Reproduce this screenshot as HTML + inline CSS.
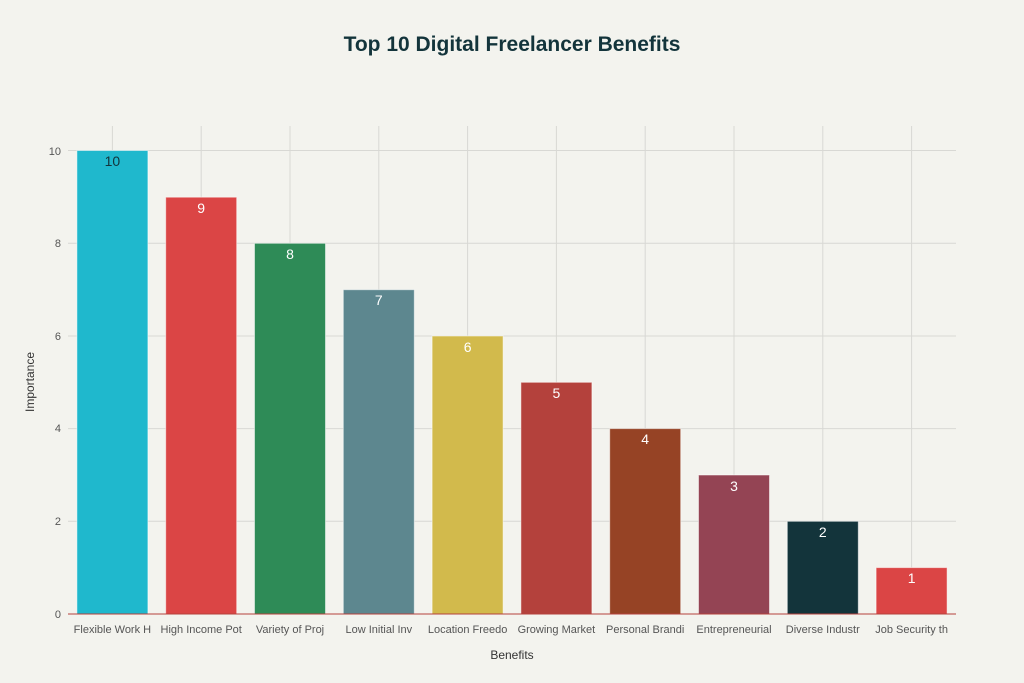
<!DOCTYPE html>
<html><head><meta charset="utf-8"><style>
html,body{margin:0;padding:0;background:#F3F3EE;}
svg{display:block;font-family:"Liberation Sans",sans-serif;}
</style></head><body>
<svg width="1024" height="683" xmlns="http://www.w3.org/2000/svg">
<rect width="1024" height="683" fill="#F3F3EE"/>
<text x="512" y="51" text-anchor="middle" font-size="21" font-weight="bold" fill="#13343B">Top 10 Digital Freelancer Benefits</text>
<g stroke="#D8D8D4" stroke-width="1">
<line x1="68" x2="956" y1="150.5" y2="150.5"/>
<line x1="68" x2="956" y1="243.3" y2="243.3"/>
<line x1="68" x2="956" y1="336" y2="336"/>
<line x1="68" x2="956" y1="428.6" y2="428.6"/>
<line x1="68" x2="956" y1="521.3" y2="521.3"/>
<line x1="112.4" x2="112.4" y1="126" y2="614"/>
<line x1="201.2" x2="201.2" y1="126" y2="614"/>
<line x1="290" x2="290" y1="126" y2="614"/>
<line x1="378.8" x2="378.8" y1="126" y2="614"/>
<line x1="467.6" x2="467.6" y1="126" y2="614"/>
<line x1="556.4" x2="556.4" y1="126" y2="614"/>
<line x1="645.2" x2="645.2" y1="126" y2="614"/>
<line x1="734" x2="734" y1="126" y2="614"/>
<line x1="822.8" x2="822.8" y1="126" y2="614"/>
<line x1="911.6" x2="911.6" y1="126" y2="614"/>
</g>
<g stroke="#ffffff" stroke-opacity="0.5" stroke-width="1">
<rect x="76.9" y="150.5" width="71" height="463.5" fill="#1FB8CD"/>
<rect x="165.7" y="197.2" width="71" height="416.8" fill="#DB4545"/>
<rect x="254.5" y="243.3" width="71" height="370.7" fill="#2E8B57"/>
<rect x="343.3" y="289.7" width="71" height="324.3" fill="#5D878F"/>
<rect x="432.1" y="336" width="71" height="278" fill="#D2BA4C"/>
<rect x="520.9" y="382.3" width="71" height="231.7" fill="#B4413C"/>
<rect x="609.7" y="428.6" width="71" height="185.4" fill="#964325"/>
<rect x="698.5" y="475" width="71" height="139" fill="#944454"/>
<rect x="787.3" y="521.3" width="71" height="92.7" fill="#13343B"/>
<rect x="876.1" y="567.6" width="71" height="46.4" fill="#DB4545"/>
</g>
<line x1="68" x2="956" y1="614" y2="614" stroke="#B4413C" stroke-width="1"/>
<g font-size="14" text-anchor="middle" fill="#fff">
<text x="112.4" y="166" fill="#13343B">10</text>
<text x="201.2" y="213">9</text>
<text x="290" y="259">8</text>
<text x="378.8" y="305">7</text>
<text x="467.6" y="352">6</text>
<text x="556.4" y="398">5</text>
<text x="645.2" y="444">4</text>
<text x="734" y="491">3</text>
<text x="822.8" y="537">2</text>
<text x="911.6" y="583">1</text>
</g>
<g font-size="11" text-anchor="end" fill="#555">
<text x="61" y="618">0</text>
<text x="61" y="525">2</text>
<text x="61" y="432">4</text>
<text x="61" y="340">6</text>
<text x="61" y="247">8</text>
<text x="61" y="155">10</text>
</g>
<g font-size="11" text-anchor="middle" fill="#555">
<text x="112.4" y="633">Flexible Work H</text>
<text x="201.2" y="633">High Income Pot</text>
<text x="290" y="633">Variety of Proj</text>
<text x="378.8" y="633">Low Initial Inv</text>
<text x="467.6" y="633">Location Freedo</text>
<text x="556.4" y="633">Growing Market</text>
<text x="645.2" y="633">Personal Brandi</text>
<text x="734" y="633">Entrepreneurial</text>
<text x="822.8" y="633">Diverse Industr</text>
<text x="911.6" y="633">Job Security th</text>
</g>
<text x="512" y="659" text-anchor="middle" font-size="12" fill="#333">Benefits</text>
<text transform="translate(34,382) rotate(-90)" text-anchor="middle" font-size="12" fill="#333">Importance</text>
</svg>
</body></html>
